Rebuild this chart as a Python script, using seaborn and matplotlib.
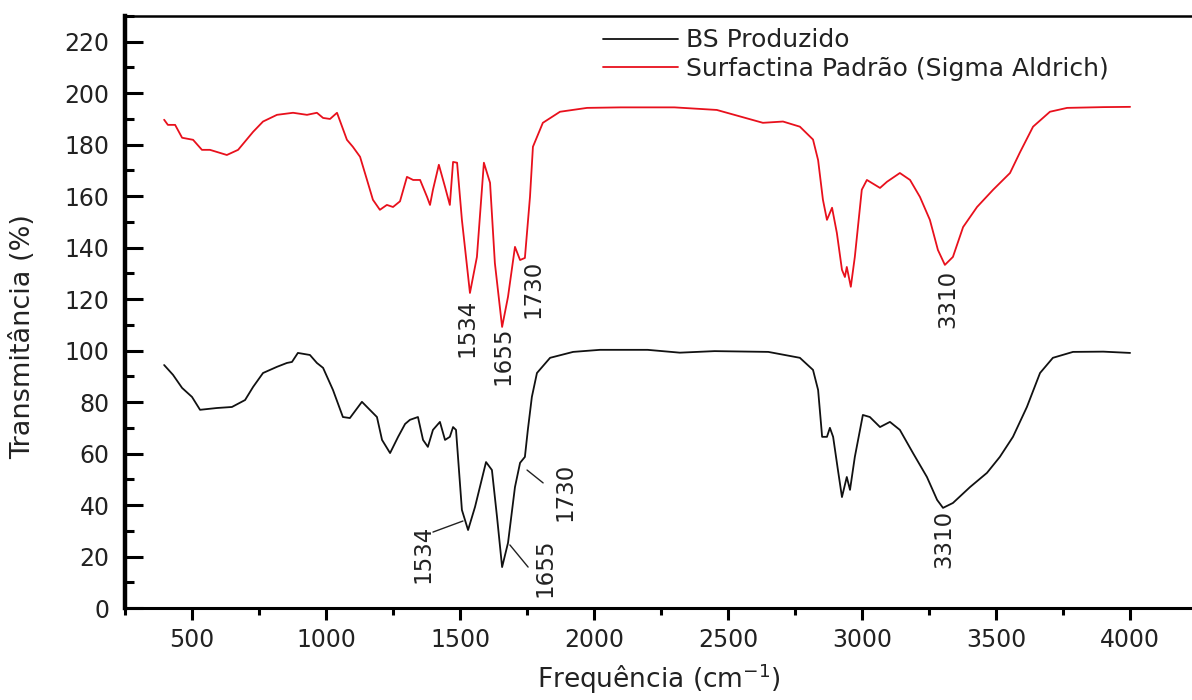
import matplotlib
matplotlib.use("Agg")
import matplotlib.pyplot as plt
import seaborn as sns
import numpy as np
import pandas as pd
from matplotlib.ticker import MultipleLocator

# ---- data ----
series_names = ["BS Produzido", "Surfactina Padrão (Sigma Aldrich)"]
series_colors = ["#111111", "#e8101c"]

bs_x = [396, 429, 463, 500, 530, 593, 649, 698, 728, 765, 817, 854, 873, 895, 940,
        966, 989, 1026, 1063, 1089, 1134, 1171, 1190, 1209, 1239, 1269, 1295, 1313,
        1343, 1362, 1380, 1399, 1425, 1444, 1462, 1474, 1485, 1507, 1530, 1556, 1597,
        1619, 1638, 1657, 1679, 1705, 1724, 1742, 1753, 1768, 1787, 1836, 1922, 2022,
        2200, 2320, 2450, 2650, 2768, 2817, 2836, 2851, 2869, 2880, 2892, 2910, 2925,
        2943, 2955, 2973, 3003, 3029, 3067, 3104, 3141, 3190, 3242, 3280, 3302, 3339,
        3403, 3466, 3514, 3563, 3615, 3664, 3712, 3787, 3900, 4000]
bs_y = [94.4, 90.6, 85.5, 82.0, 77.0, 77.7, 78.1, 80.8, 85.9, 91.3, 93.7, 95.2, 95.6,
        99.1, 98.3, 95.2, 93.3, 84.7, 74.2, 73.8, 80.1, 76.2, 74.2, 65.3, 60.2, 66.5,
        71.5, 73.1, 74.2, 65.3, 62.6, 69.2, 72.3, 65.3, 66.5, 70.3, 69.2, 38.1, 30.3,
        39.3, 56.7, 53.6, 35.4, 15.9, 25.3, 47.0, 56.4, 58.7, 69.2, 82.0, 91.3, 97.2,
        99.5, 100.3, 100.3, 99.2, 99.8, 99.5, 97.2, 92.5, 84.7, 66.5, 66.5, 70.0, 66.5,
        53.6, 43.1, 50.9, 45.9, 58.7, 75.0, 74.2, 70.3, 72.3, 69.2, 60.2, 50.9, 42.0,
        38.9, 40.8, 47.0, 52.5, 58.7, 66.5, 78.1, 91.3, 97.2, 99.5, 99.6, 99.1]

sf_x = [396, 410, 437, 463, 504, 537, 567, 630, 672, 728, 765, 817, 877, 929, 966, 989,
        1015, 1041, 1078, 1100, 1127, 1153, 1175, 1201, 1227, 1250, 1276, 1302, 1325,
        1351, 1377, 1388, 1399, 1421, 1444, 1462, 1474, 1489, 1507, 1537, 1563, 1589,
        1612, 1630, 1657, 1679, 1705, 1724, 1742, 1761, 1772, 1809, 1873, 1974, 2100,
        2300, 2458, 2630, 2705, 2768, 2817, 2836, 2854, 2869, 2888, 2906, 2925, 2936,
        2943, 2958, 2973, 2999, 3018, 3067, 3093, 3141, 3179, 3216, 3253, 3283, 3309,
        3339, 3377, 3429, 3489, 3552, 3589, 3638, 3701, 3765, 3900, 4000]
sf_y = [189.7, 187.7, 187.7, 182.7, 181.9, 178.0, 178.0, 176.0, 178.0, 185.0, 189.0,
        191.6, 192.4, 191.6, 192.4, 190.4, 190.0, 192.4, 181.9, 179.2, 175.3, 166.3,
        158.6, 154.7, 156.6, 155.8, 158.0, 167.5, 166.3, 166.3, 159.7, 156.6, 162.5,
        172.2, 163.6, 156.6, 173.3, 173.0, 150.8, 122.4, 136.4, 173.0, 165.2, 134.0,
        109.2, 120.9, 140.3, 135.2, 136.0, 159.7, 179.2, 188.5, 192.8, 194.3, 194.5,
        194.5, 193.5, 188.5, 189.0, 187.0, 182.0, 174.0, 158.6, 150.8, 155.5, 145.7,
        131.4, 128.6, 132.5, 124.8, 136.4, 162.5, 166.3, 163.2, 165.6, 169.0, 166.3,
        159.7, 150.8, 139.1, 133.3, 136.4, 148.0, 155.8, 162.5, 169.0, 177.0, 187.0,
        192.8, 194.3, 194.6, 194.7]

peak_labels = ["1534", "1655", "1730", "3310"]

df = pd.concat([
    pd.DataFrame({"freq": bs_x, "T": bs_y, "amostra": series_names[0]}),
    pd.DataFrame({"freq": sf_x, "T": sf_y, "amostra": series_names[1]}),
], ignore_index=True)

# ---- figure ----
sns.set_style("ticks")
plt.rcParams["font.family"] = ["DejaVu Sans"]
txt_color = "#222222"

fig = plt.figure(figsize=(11.92, 7), dpi=100)
ax = fig.add_axes([125 / 1192, 92 / 700, 1 - 125 / 1192, 592 / 700])

sns.lineplot(data=df, x="freq", y="T", hue="amostra", hue_order=series_names,
             palette=series_colors, sort=False, estimator=None, linewidth=1.3, ax=ax)

ax.set_xlim(250, 4231)
ax.set_ylim(0, 230)
ax.xaxis.set_major_locator(MultipleLocator(500))
ax.xaxis.set_minor_locator(MultipleLocator(250))
ax.yaxis.set_major_locator(MultipleLocator(20))
ax.yaxis.set_minor_locator(MultipleLocator(10))
ax.set_xticks(np.arange(500, 4001, 500))
ax.set_yticks(np.arange(0, 221, 20))

ax.tick_params(axis="both", which="both", color="black")
ax.tick_params(axis="y", which="major", direction="in", length=13, width=2.2,
               labelsize=17, labelcolor=txt_color, pad=11)
ax.tick_params(axis="y", which="minor", direction="in", length=6.5, width=2.2)
ax.tick_params(axis="x", which="major", direction="out", length=8.5, width=2.2,
               labelsize=17, labelcolor=txt_color, pad=6)
ax.tick_params(axis="x", which="minor", direction="out", length=5, width=2.2)

ax.spines["right"].set_visible(False)
for side, lw in [("left", 3.2), ("bottom", 2.2), ("top", 1.8)]:
    ax.spines[side].set_linewidth(lw)
    ax.spines[side].set_color("black")

ax.set_xlabel("Frequência (cm$^{-1}$)", fontsize=19, color=txt_color)
ax.set_ylabel("Transmitância (%)", fontsize=19.5, color=txt_color)
ax.xaxis.set_label_coords(0.5, -0.09)
ax.yaxis.set_label_coords(-0.083, 0.458)

# ---- peak labels ----
lbl = dict(rotation=90, ha="center", va="center", fontsize=16.5, color=txt_color)
red_pos = [(1526, 109), (1660, 98), (1772, 124), (3321, 120)]
blk_pos = [(1362, 21), (1817, 15.5), (1892, 45), (3306, 27)]
for txt, (x, y) in zip(peak_labels, red_pos):
    ax.text(x, y, txt, **lbl)
for txt, (x, y) in zip(peak_labels, blk_pos):
    ax.text(x, y, txt, **lbl)

# leader lines for the lower spectrum
for (x0, y0), (x1, y1) in [((1399, 29.5), (1511, 33.8)),
                           ((1686, 24.5), (1754, 15.9)),
                           ((1750, 53.6), (1810, 48.6))]:
    ax.plot([x0, x1], [y0, y1], color=txt_color, lw=1.0)

leg = ax.legend(loc="upper left", bbox_to_anchor=(0.448, 0.979), frameon=False,
                fontsize=18, handlelength=3.0, handletextpad=0.3, labelspacing=0.18,
                borderaxespad=0, borderpad=0)
for t in leg.get_texts():
    t.set_color(txt_color)

fig.savefig("out.png", dpi=100)
